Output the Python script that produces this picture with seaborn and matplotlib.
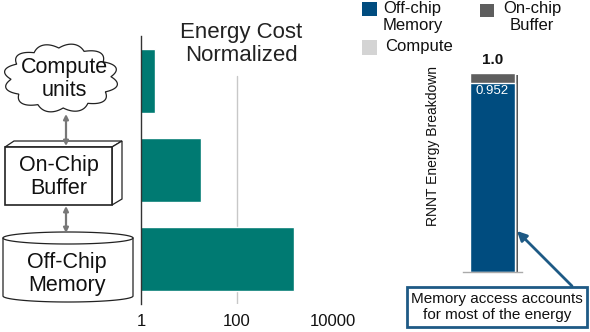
import numpy as np
import pandas as pd
import matplotlib
matplotlib.use('Agg')
import matplotlib.pyplot as plt
import matplotlib.patches as mpatches
import matplotlib.patheffects as pe
import seaborn as sns

# energy cost per access, normalized to a compute op
levels = ['Compute units', 'On-Chip Buffer', 'Off-Chip Memory']
energy_cost = [2, 18, 1550]
cost_ticks = [1, 100, 10000]
cost_ticklabels = ['1', '100', '10000']

# RNNT energy breakdown
parts = ['Off-chip\nMemory', 'On-chip\nBuffer', 'Compute']
part_share = [0.952, 0.046, 0.002]
total_label = '1.0'
memory_label = '0.952'

TEAL = '#007a72'
BLUE = '#004c7f'
DGRAY = '#5e5e5e'
LGRAY = '#d4d4d4'
part_colors = [BLUE, DGRAY, LGRAY]

sns.set_theme(style='white')
plt.rcParams['font.family'] = ['Liberation Sans', 'DejaVu Sans']

fig = plt.figure(figsize=(5.9, 3.32), dpi=100)
W, H = 590, 332


def px_axes(x0, y0, x1, y1):
    # axes from pixel box (top-left origin)
    return fig.add_axes([x0 / W, 1 - y1 / H, (x1 - x0) / W, (y1 - y0) / H])


# ---- energy cost bars ----
ax = px_axes(141, 36, 333, 304)
df = pd.DataFrame({'level': levels, 'cost': energy_cost})
sns.barplot(data=df, x='cost', y='level', orient='h', color=TEAL,
            saturation=1, width=0.72, ax=ax)
ax.set_xscale('log', nonpositive='clip')
ax.set_xlim(1, 10000)
ax.set_ylim(2.5, -0.5)
ax.set_xticks(cost_ticks)
ax.set_xticklabels(cost_ticklabels, fontsize=12, color='#111')
ax.xaxis.set_minor_locator(matplotlib.ticker.NullLocator())
ax.tick_params(axis='x', length=0, pad=7)
ax.set_yticks([])
ax.set_xlabel('')
ax.set_ylabel('')
for s in ['top', 'right', 'bottom']:
    ax.spines[s].set_visible(False)
ax.spines['left'].set_color('#333')
ax.spines['left'].set_linewidth(1)
ax.axvline(100, ymax=0.85, color='#c8c8c8', lw=1, zorder=0)

# ---- RNNT breakdown stacked bar ----
ax2 = px_axes(463, 73, 522, 272)
cum = np.cumsum(part_share)
for v, c in zip(cum[::-1], part_colors[::-1]):
    sns.barplot(x=['RNNT'], y=[v], color=c, saturation=1, width=0.76, ax=ax2)
ax2.patches[0].set_path_effects([
    pe.SimplePatchShadow(offset=(2.2, -1.5), shadow_rgbFace='#444', alpha=0.9),
    pe.Normal()])
ax2.set_xlim(-0.5, 0.5)
ax2.set_ylim(0, 1.0)
ax2.set_xticks([])
ax2.set_yticks([])
ax2.set_xlabel('')
ax2.set_ylabel('')
for s in ['top', 'right', 'left']:
    ax2.spines[s].set_visible(False)
ax2.spines['bottom'].set_color('#aaa')
ax2.spines['bottom'].set_linewidth(1)
ax2.annotate(total_label, (0, cum[-1]), xytext=(0, 4), textcoords='offset points',
             ha='center', va='bottom', fontsize=11, fontweight='bold', color='#111')
ax2.annotate(memory_label, (0, cum[0]), xytext=(0, -2), textcoords='offset points',
             ha='center', va='top', fontsize=9.5, color='white')

# ---- overlay: diagrams, legend, notes ----
ov = fig.add_axes([0, 0, 1, 1])
ov.set_xlim(0, W)
ov.set_ylim(H, 0)
ov.axis('off')

# cloud
t = np.linspace(0, 2 * np.pi, 800)
k = 1 + 0.15 * np.abs(np.sin(6 * t + np.pi / 12))
cloud = np.column_stack([61 + 50 * k * np.cos(t), 78 + 30 * k * np.sin(t)])
ov.add_patch(mpatches.Polygon(cloud, closed=True, fc='white', ec='#222', lw=0.9))
ov.text(64, 79, 'Compute\nunits', ha='center', va='center', fontsize=15.5,
        linespacing=1.15, color='#111')

# 3D box
ov.add_patch(mpatches.Polygon([(5, 147), (14, 141), (122, 141), (112, 147)],
                              fc='white', ec='#222', lw=0.9))
ov.add_patch(mpatches.Polygon([(112, 147), (122, 141), (122, 199), (112, 205)],
                              fc='white', ec='#222', lw=0.9))
ov.add_patch(mpatches.Rectangle((5, 147), 107, 58, fc='white', ec='#222', lw=1.2))
ov.text(59, 177, 'On-Chip\nBuffer', ha='center', va='center', fontsize=15.5,
        linespacing=1.15, color='#111')

# cylinder
cx, a, b = 68, 65, 6
th = np.linspace(np.pi, 0, 100)
bottom = np.column_stack([cx + a * np.cos(th), 296 + b * np.sin(th)])
th2 = np.linspace(0, -np.pi, 100)
top_back = np.column_stack([cx + a * np.cos(th2), 238 + b * np.sin(th2)])
ov.add_patch(mpatches.Polygon(np.vstack([bottom, top_back]), closed=True,
                              fc='white', ec='#222', lw=0.9))
ov.plot(cx + a * np.cos(th), 238 + b * np.sin(th), color='#222', lw=0.9)
ov.text(67, 274, 'Off-Chip\nMemory', ha='center', va='center', fontsize=15.5,
        linespacing=1.15, color='#111')

# arrows between levels
for y0, y1 in [(114, 146), (206, 233)]:
    ov.annotate('', xy=(66, y0), xytext=(66, y1),
                arrowprops=dict(arrowstyle='<|-|>', color='#777', lw=1.6,
                                mutation_scale=7, shrinkA=0, shrinkB=0))

# title of the cost chart
ov.text(241, 44, 'Energy Cost\nNormalized', ha='center', va='center',
        fontsize=16, linespacing=1.15, color='#222')

# legend
ov.add_patch(mpatches.Rectangle((362, 2), 15, 14, fc=BLUE, ec='none'))
ov.text(383, 1, parts[0], ha='left', va='top', fontsize=12, linespacing=1.2, color='#111')
ov.add_patch(mpatches.Rectangle((480, 4), 14, 13, fc=DGRAY, ec='none'))
ov.text(532, 1, parts[1], ha='center', va='top', fontsize=12, linespacing=1.2,
        multialignment='center', color='#111')
ov.add_patch(mpatches.Rectangle((362, 40), 15, 15, fc=LGRAY, ec='none'))
ov.text(385, 47, parts[2], ha='left', va='center', fontsize=12, color='#111')

ov.text(433, 146, 'RNNT Energy Breakdown', rotation=90, ha='center', va='center',
        fontsize=10, color='#111')

# callout
ov.text(497, 307, 'Memory access accounts\nfor most of the energy', ha='center',
        va='center', fontsize=11, linespacing=1.2, color='#111',
        bbox=dict(boxstyle='square,pad=0.3', fc='white', ec='#1e5a85', lw=2))
ov.annotate('', xy=(517, 231), xytext=(572, 286),
            arrowprops=dict(arrowstyle='-|>', color='#1e5a85', lw=2,
                            mutation_scale=14, shrinkA=0, shrinkB=0))

fig.savefig('out.png', dpi=100)
